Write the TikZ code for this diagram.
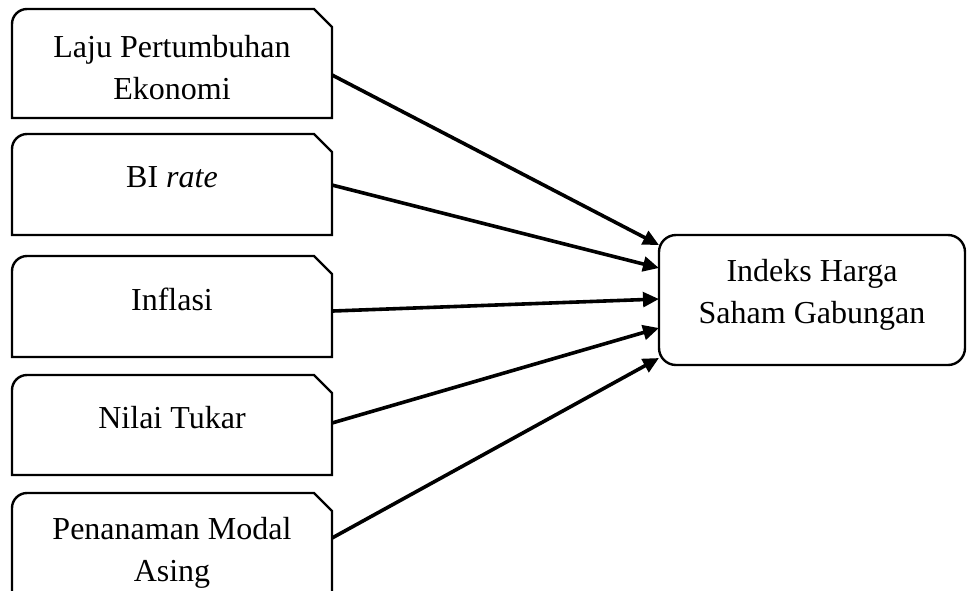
\documentclass[tikz,border=0pt]{standalone}
\usepackage{fontspec}
\setmainfont{Liberation Serif}
\usetikzlibrary{arrows.meta}

\begin{document}
\begin{tikzpicture}[x=0.75pt,y=-0.75pt]
\def\cLine{black}
\def\cText{black}
\def\wBox{1.8pt}
\def\wArr{2.7pt}
\def\rc{11.25pt}
\def\cc{13.5pt}
\tikzset{
  srcbox/.style={rectangle, minimum width=240pt, minimum height=#1, inner sep=0pt, outer sep=0pt},
  txt/.style={\cText, font=\fontsize{24}{31}\selectfont, align=center, inner sep=0pt, anchor=base},
  link/.style={\cLine, line width=\wArr, -{Triangle[length=12pt,width=11pt]}}
}
\clip (0,0) rectangle (968,590);
% left side boxes
\node[srcbox=81.75pt] (b1) at (172,63.5) {};
\node[srcbox=75.75pt] (b2) at (172,184.5) {};
\node[srcbox=75.75pt] (b3) at (172,306.5) {};
\node[srcbox=75pt] (b4) at (172,425) {};
\node[srcbox=75.75pt] (b5) at (172,543.5) {};
\draw[\cLine, line width=\wBox] (b1.south west) -- ([yshift=-\rc]b1.north west) arc[start angle=180, end angle=90, radius=\rc] -- ([xshift=-\cc]b1.north east) -- ([yshift=-\cc]b1.north east) -- (b1.south east) -- cycle;
\draw[\cLine, line width=\wBox] (b2.south west) -- ([yshift=-\rc]b2.north west) arc[start angle=180, end angle=90, radius=\rc] -- ([xshift=-\cc]b2.north east) -- ([yshift=-\cc]b2.north east) -- (b2.south east) -- cycle;
\draw[\cLine, line width=\wBox] (b3.south west) -- ([yshift=-\rc]b3.north west) arc[start angle=180, end angle=90, radius=\rc] -- ([xshift=-\cc]b3.north east) -- ([yshift=-\cc]b3.north east) -- (b3.south east) -- cycle;
\draw[\cLine, line width=\wBox] (b4.south west) -- ([yshift=-\rc]b4.north west) arc[start angle=180, end angle=90, radius=\rc] -- ([xshift=-\cc]b4.north east) -- ([yshift=-\cc]b4.north east) -- (b4.south east) -- cycle;
\draw[\cLine, line width=\wBox] (b5.south west) -- ([yshift=-\rc]b5.north west) arc[start angle=180, end angle=90, radius=\rc] -- ([xshift=-\cc]b5.north east) -- ([yshift=-\cc]b5.north east) -- (b5.south east) -- cycle;
\node[txt] (t1) at (172,99) {Laju Pertumbuhan\\Ekonomi};
\node[txt] (t2) at (172,187) {BI \textit{rate}};
\node[txt] (t3) at (172,310) {Inflasi};
\node[txt] (t4) at (172,428) {Nilai Tukar};
\node[txt] (t5) at (172,581) {Penanaman Modal\\Asing};
% target box
\node[draw=\cLine, line width=\wBox, rounded corners=12.75pt, minimum width=229.5pt, minimum height=97.5pt, inner sep=0pt, outer sep=0pt] (ihsg) at (812,300) {};
\node[txt] (t6) at (812,323) {Indeks Harga\\Saham Gabungan};
% arrows
\coordinate (o1) at ([yshift=-8.6pt]b1.east);
\coordinate (o2) at ([yshift=-0.4pt]b2.east);
\coordinate (o3) at ([yshift=-3.4pt]b3.east);
\coordinate (o4) at ([yshift=1.5pt]b4.east);
\coordinate (o5) at ([yshift=4.1pt]b5.east);
\coordinate (i1) at ([yshift=41.25pt]ihsg.west);
\coordinate (i2) at ([yshift=24pt]ihsg.west);
\coordinate (i3) at ([yshift=0.75pt]ihsg.west);
\coordinate (i4) at ([yshift=-21pt]ihsg.west);
\coordinate (i5) at ([yshift=-43.5pt]ihsg.west);
\draw[link] (o1) -- (i1);
\draw[link] (o2) -- (i2);
\draw[link] (o3) -- (i3);
\draw[link] (o4) -- (i4);
\draw[link] (o5) -- (i5);
\end{tikzpicture}
\end{document}
